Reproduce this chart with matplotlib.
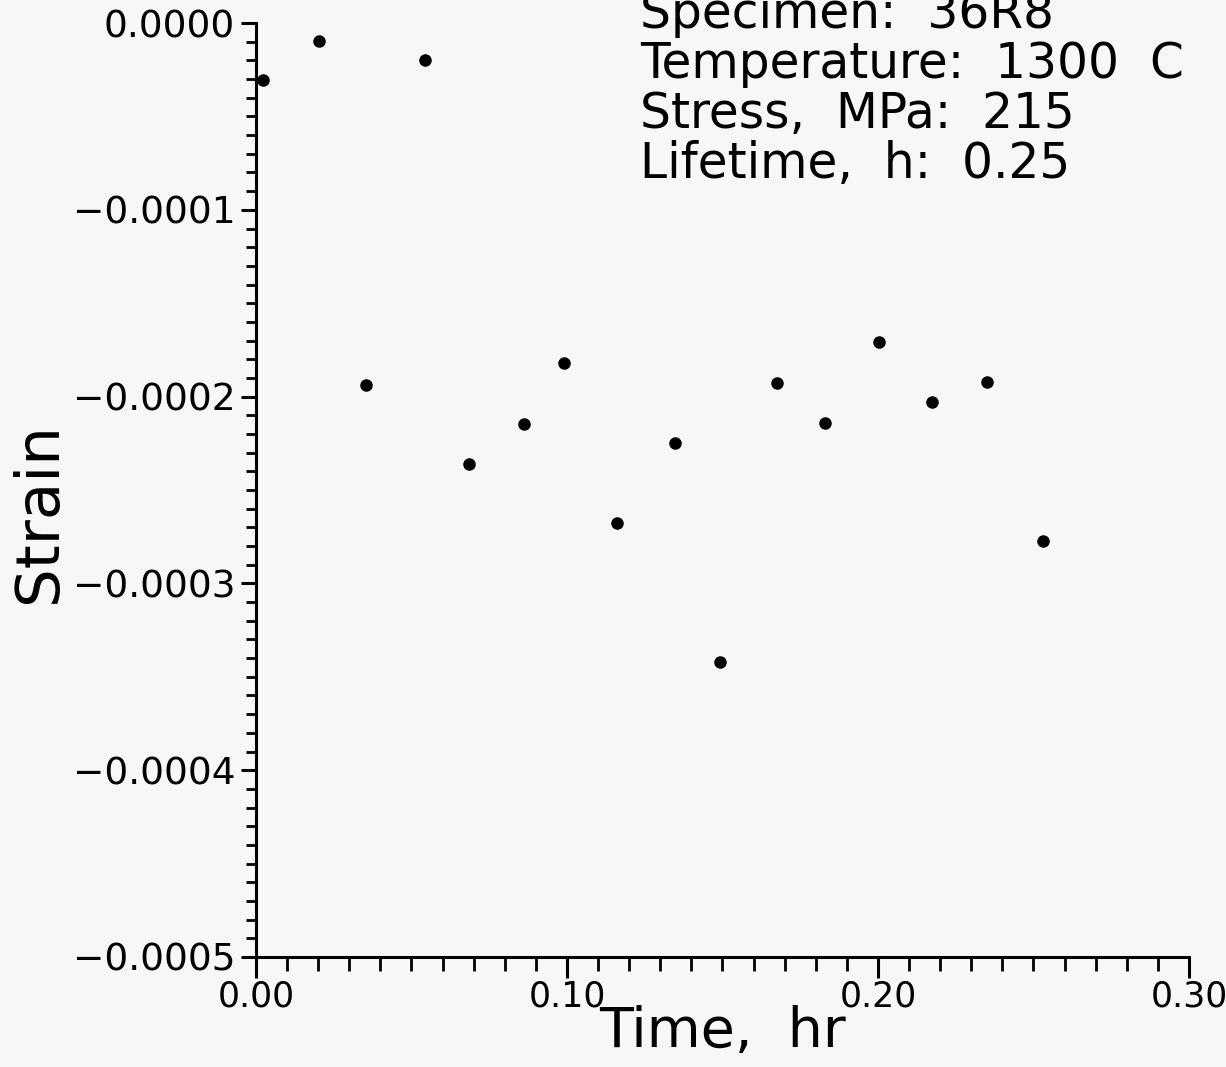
import numpy as np
import matplotlib.pyplot as plt
from matplotlib.ticker import MultipleLocator, FuncFormatter

# time (hr) and strain
time_hr = [0.0023, 0.0203, 0.0354, 0.0543, 0.0685, 0.0862, 0.0990, 0.1161,
           0.1347, 0.1492, 0.1675, 0.1830, 0.2003, 0.2174, 0.2350, 0.2531]
strain = [-0.0000305, -0.0000096, -0.0001938, -0.0000198, -0.0002361, -0.0002147,
          -0.0001820, -0.0002677, -0.0002248, -0.0003421, -0.0001927, -0.0002141,
          -0.0001708, -0.0002029, -0.0001922, -0.0002773]

x_ticks = [0.00, 0.10, 0.20, 0.30]
y_ticks = [0.0, -0.0001, -0.0002, -0.0003, -0.0004, -0.0005]

info_lines = ["Specimen:  36R8", "Temperature:  1300  C",
              "Stress,  MPa:  215", "Lifetime,  h:  0.25"]

bg = '#f7f7f7'
fig = plt.figure(figsize=(12.26, 10.67), dpi=100, facecolor=bg)
ax = fig.add_axes([0.2088, 0.1031, 0.761, 0.8753], facecolor=bg)

ax.plot(time_hr, strain, 'o', color='black', markersize=8, clip_on=False)

ax.set_xlim(0, 0.30)
ax.set_ylim(-0.0005, 0.0)
ax.set_xticks(x_ticks)
ax.set_yticks(y_ticks)
ax.xaxis.set_minor_locator(MultipleLocator(0.01))
ax.yaxis.set_minor_locator(MultipleLocator(0.00001))


def fmt_y(v, pos):
    if abs(v) < 1e-12:
        return "0.0000"
    return f"{v:.4f}".replace('-', '\u2212')


ax.yaxis.set_major_formatter(FuncFormatter(fmt_y))
ax.xaxis.set_major_formatter(FuncFormatter(lambda v, pos: f"{v:.2f}"))

for s in ['top', 'right']:
    ax.spines[s].set_visible(False)
for s in ['left', 'bottom']:
    ax.spines[s].set_linewidth(2.2)

ax.tick_params(which='major', direction='out', length=11, width=2.2, pad=4)
ax.tick_params(axis='y', which='major', labelsize=27)
ax.tick_params(which='minor', direction='out', length=7, width=2.0)
ax.tick_params(axis='x', which='major', length=15, pad=1, labelsize=25)
ax.tick_params(axis='x', which='minor', length=10)

ax.set_xlabel("Time,  hr", fontsize=40, labelpad=-6)
ax.set_ylabel("Strain", fontsize=44)
ax.yaxis.set_label_coords(-0.2, 0.476)

y0 = 1 - 28 / 1067
for i, line in enumerate(info_lines):
    fig.text(640 / 1226, y0 - i * 50 / 1067, line, fontsize=35,
             va='baseline', ha='left')

fig.savefig('out.png', dpi=100, facecolor=bg)
